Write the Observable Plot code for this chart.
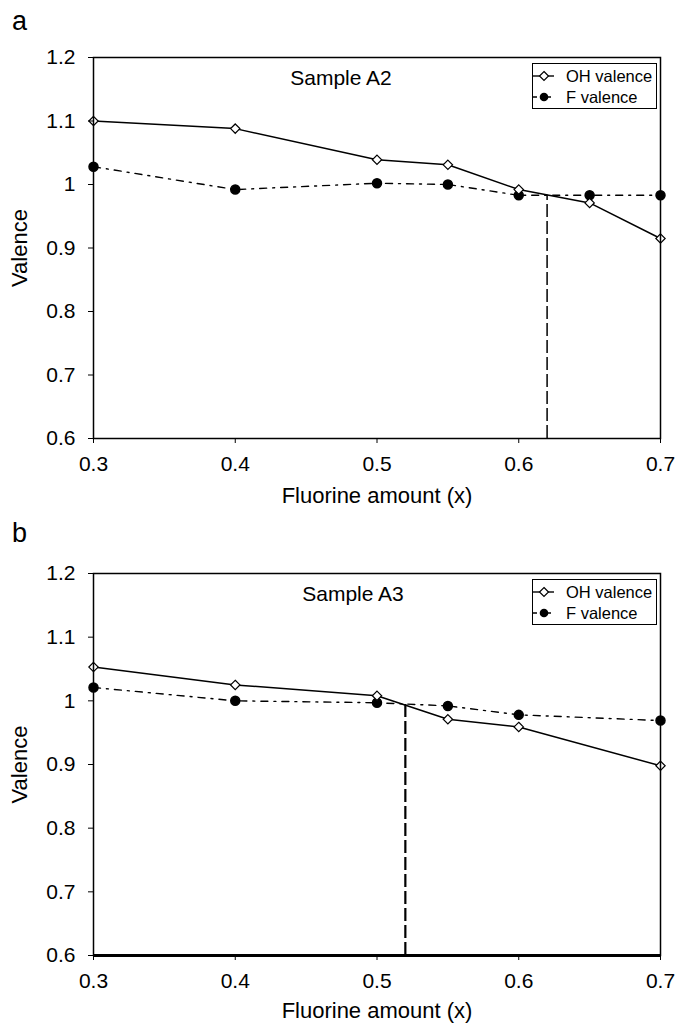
<!DOCTYPE html>
<html>
<head>
<meta charset="utf-8">
<script src="https://cdn.jsdelivr.net/npm/d3@7"></script>
<script src="https://cdn.jsdelivr.net/npm/@observablehq/plot@0.6"></script>
<style>
  html, body { margin: 0; padding: 0; background: #fff; }
  #root { position: relative; width: 675px; height: 1024px; font-family: "Liberation Sans", Arial, sans-serif; color: #000; }
  .panel { position: absolute; left: 0; width: 675px; height: 512px; }
  .letter { position: absolute; font-size: 27px; line-height: 1; }
  .sample { position: absolute; font-size: 21px; line-height: 1; transform: translateX(-50%); white-space: nowrap; }
  .legend { position: absolute; border: 1.5px solid #000; background: #fff; width: 125px; height: 46px; box-sizing: border-box; }
  .legend .row { position: absolute; left: 0; height: 20px; display: flex; align-items: center; font-size: 16.5px; white-space: nowrap; }
  .legend svg { display: block; }
</style>
</head>
<body>
<div id="root"></div>
<script>
// ---- data ----
const seriesNames = ["OH valence", "F valence"];
const xTicks = [0.3, 0.4, 0.5, 0.6, 0.7];
const yTicks = [0.6, 0.7, 0.8, 0.9, 1.0, 1.1, 1.2];

const xA = [0.3, 0.4, 0.5, 0.55, 0.6, 0.65, 0.7];
const ohA = [1.100, 1.088, 1.039, 1.031, 0.992, 0.971, 0.915];
const fA = [1.028, 0.992, 1.002, 1.000, 0.983, 0.983, 0.983];
const crossA = [{x: 0.62, y: 0.983}];

const xB = [0.3, 0.4, 0.5, 0.55, 0.6, 0.7];
const ohB = [1.053, 1.025, 1.008, 0.971, 0.959, 0.898];
const fB = [1.021, 1.000, 0.997, 0.992, 0.978, 0.969];
const crossB = [{x: 0.52, y: 0.995}];

const panels = [
  {letter: "a", sample: "Sample A2", xs: xA, oh: ohA, f: fA, cross: crossA, top: 0, marginTop: 57, marginBottom: 74, thickBase: false, crossWidth: 1.5, labelOffset: 64},
  {letter: "b", sample: "Sample A3", xs: xB, oh: ohB, f: fB, cross: crossB, top: 512, marginTop: 61, marginBottom: 69, thickBase: true, crossWidth: 2.2, labelOffset: 62}
];

const root = document.getElementById("root");
const fmt = d => String(+(+d).toFixed(1));

for (const p of panels) {
  const ohData = p.xs.map((x, i) => ({x, y: p.oh[i]}));
  const fData = p.xs.map((x, i) => ({x, y: p.f[i]}));
  const marks = [
    Plot.ruleX(p.cross, {x: "x", y1: 0.6, y2: "y", stroke: "#000", strokeWidth: p.crossWidth, strokeDasharray: "13,4"}),
    Plot.line(fData, {x: "x", y: "y", stroke: "#000", strokeWidth: 1.4, strokeDasharray: "7,6,2,6"}),
    Plot.line(ohData, {x: "x", y: "y", stroke: "#000", strokeWidth: 1.5}),
    Plot.dot(fData, {x: "x", y: "y", r: 4.5, fill: "#000", stroke: "#000"}),
    Plot.dot(ohData, {x: "x", y: "y", symbol: "diamond2", r: 4.2, fill: "#fff", stroke: "#000", strokeWidth: 1.2}),
    Plot.frame({stroke: "#000", strokeWidth: 1.5})
  ];
  if (p.thickBase) marks.push(Plot.ruleY([0.6], {stroke: "#000", strokeWidth: 3}));
  marks.push(
    Plot.axisX({ticks: xTicks, tickFormat: fmt, tickSize: 5, tickPadding: 13, label: "Fluorine amount (x)", labelAnchor: "center", labelArrow: "none", labelOffset: p.labelOffset}),
    Plot.axisY({ticks: yTicks, tickFormat: fmt, tickSize: 5, tickPadding: 13, label: "Valence", labelAnchor: "center", labelArrow: "none", labelOffset: 82})
  );
  const chart = Plot.plot({
    width: 675,
    height: 512,
    marginLeft: 93,
    marginRight: 15,
    marginTop: p.marginTop,
    marginBottom: p.marginBottom,
    x: {domain: [0.3, 0.7]},
    y: {domain: [0.6, 1.2]},
    style: {fontFamily: "'Liberation Sans', Arial, sans-serif", fontSize: "21px", color: "#000", background: "#fff", overflow: "visible"},
    marks
  });
  chart.querySelectorAll("[aria-label='x-axis label'], [aria-label='y-axis label']").forEach(g => g.setAttribute("font-size", "22"));
  const div = document.createElement("div");
  div.className = "panel";
  div.style.top = p.top + "px";
  div.appendChild(chart);
  root.appendChild(div);

  const letter = document.createElement("div");
  letter.className = "letter";
  letter.textContent = p.letter;
  letter.style.left = "12px";
  letter.style.top = (p.top + 8) + "px";
  root.appendChild(letter);

  const sample = document.createElement("div");
  sample.className = "sample";
  sample.textContent = p.sample;
  sample.style.left = (p.letter === "a" ? 341 : 353) + "px";
  sample.style.top = (p.top + p.marginTop + 10) + "px";
  root.appendChild(sample);

  const leg = document.createElement("div");
  leg.className = "legend";
  leg.style.left = "532px";
  leg.style.top = (p.top + p.marginTop + 6) + "px";
  const sw = [
    `<svg width="34" height="20"><line x1="0" x2="21" y1="10" y2="10" stroke="#000" stroke-width="1.4"/><path d="M11,5.5L15.5,10L11,14.5L6.5,10Z" fill="#fff" stroke="#000" stroke-width="1.2"/></svg>`,
    `<svg width="34" height="20"><line x1="0" x2="21" y1="10" y2="10" stroke="#000" stroke-width="1.4" stroke-dasharray="4,3"/><circle cx="11" cy="10" r="4.3" fill="#000"/></svg>`
  ];
  seriesNames.forEach((name, i) => {
    const row = document.createElement("div");
    row.className = "row";
    row.style.top = (i === 0 ? 2 : 23) + "px";
    row.innerHTML = sw[i] + `<span style="margin-left:-1px">${name}</span>`;
    leg.appendChild(row);
  });
  root.appendChild(leg);
}
</script>
</body>
</html>
